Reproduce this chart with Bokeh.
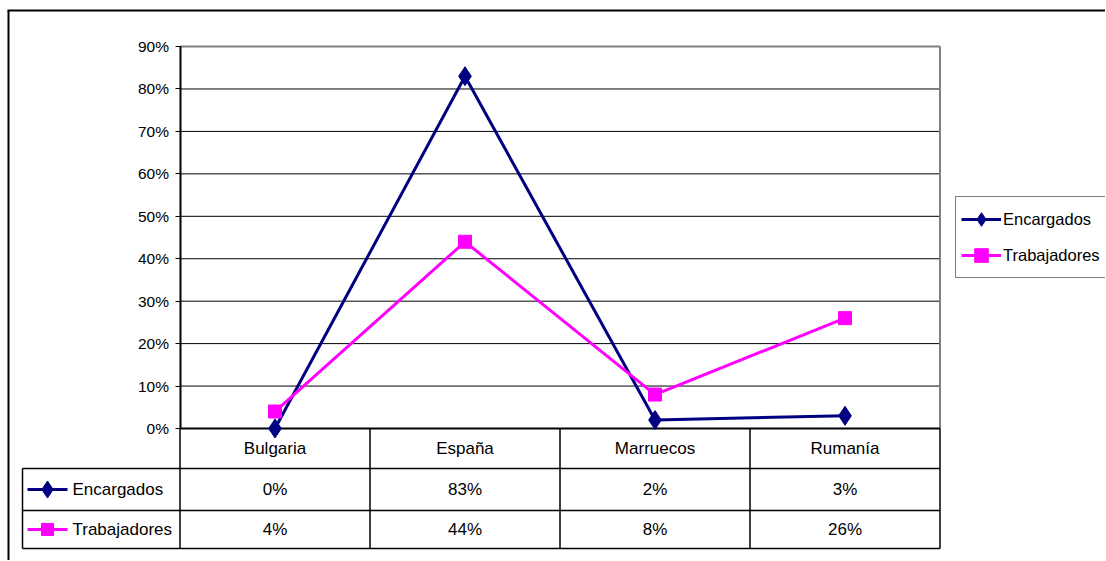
from bokeh.plotting import figure
from bokeh.models import Range1d, FixedTicker, NumeralTickFormatter, Legend, LegendItem
from bokeh.core.properties import value
from bokeh.embed import file_html
from bokeh.resources import INLINE

# ---------------- data ----------------
categories = ["Bulgaria", "España", "Marruecos", "Rumanía"]
series_names = ["Encargados", "Trabajadores"]
encargados = [0.00, 0.83, 0.02, 0.03]
trabajadores = [0.04, 0.44, 0.08, 0.26]
y_ticks = [0.0, 0.1, 0.2, 0.3, 0.4, 0.5, 0.6, 0.7, 0.8, 0.9]

# ---------------- style ----------------
FONT = "Liberation Sans"
NAVY = "#000080"
MAGENTA = "#FF00FF"
GREY = "#808080"

W, H = 1105, 560
OFF = 0
PX_X0 = 179.5   # page x of plot-area left edge
PX_UX = 190.0   # px per category
PX_Y0 = 428.0   # page y of 0%
PX_UY = 424.4   # px per 100%


def dx(px):
    return -0.5 + (px - PX_X0) / PX_UX


def dy(py):
    return (PX_Y0 - py) / PX_UY


p = figure(width=W, height=H,
           x_range=Range1d(dx(OFF), dx(OFF + W)),
           y_range=Range1d(dy(OFF + H), dy(OFF)),
           toolbar_location=None, output_backend="svg",
           min_border=0, x_axis_location=None, y_axis_location="left")
p.outline_line_color = None
p.grid.visible = False
p.background_fill_color = "white"
p.border_fill_color = "white"

n = len(categories)
xs = list(range(n))
x_left, x_right = -0.5, n - 0.5

# y axis placed on the plot-area left edge
ax = p.yaxis[0]
ax.fixed_location = x_left
ax.bounds = (y_ticks[0], y_ticks[-1])
ax.ticker = FixedTicker(ticks=y_ticks)
ax.formatter = NumeralTickFormatter(format="0%")
ax.major_tick_in = 0
ax.major_tick_out = 5
ax.minor_tick_line_color = None
ax.major_label_standoff = 6
ax.major_label_text_font = FONT
ax.major_label_text_font_size = "15.5px"
ax.major_label_text_color = "black"
ax.axis_line_color = "black"
ax.axis_line_width = 2
ax.major_tick_line_color = "black"

# grid lines
inner = y_ticks[1:-1]
p.segment(x0=x_left, x1=x_right, y0=inner, y1=inner, line_color="black", line_width=1)
p.segment(x0=x_left, x1=x_right, y0=y_ticks[-1], y1=y_ticks[-1], line_color=GREY, line_width=2)
p.segment(x0=x_right, x1=x_right, y0=y_ticks[0], y1=y_ticks[-1], line_color=GREY, line_width=2)

# data table geometry
ROW_PX = [428, 468, 510, 548]
TABLE_LEFT = dx(22)
row_y = [dy(v) for v in ROW_PX]
row_mid = [dy((ROW_PX[i] + ROW_PX[i + 1]) / 2) for i in range(3)]

bounds_x = [i - 0.5 for i in range(n + 1)]
p.segment(x0=bounds_x, x1=bounds_x, y0=row_y[0], y1=row_y[-1], line_color="black", line_width=1.5)
p.segment(x0=TABLE_LEFT, x1=TABLE_LEFT, y0=row_y[1], y1=row_y[-1], line_color="black", line_width=1.5)
p.segment(x0=TABLE_LEFT, x1=x_right, y0=row_y[1:], y1=row_y[1:], line_color="black", line_width=1.5)
p.segment(x0=x_left, x1=x_right, y0=0, y1=0, line_color="black", line_width=2)

# outer chart frame (left and top)
p.segment(x0=dx(8), x1=dx(8), y0=dy(OFF + H), y1=dy(10), line_color="black", line_width=2)
p.segment(x0=dx(7), x1=dx(OFF + W), y0=dy(10), y1=dy(10), line_color="black", line_width=2)

# series
l1 = p.line(xs, encargados, line_color=NAVY, line_width=3)
m1 = p.scatter(xs, encargados, marker="diamond", size=19,
               fill_color=NAVY, line_color=NAVY)
l2 = p.line(xs, trabajadores, line_color=MAGENTA, line_width=3)
m2 = p.scatter(xs, trabajadores, marker="square", size=13,
               fill_color=MAGENTA, line_color=MAGENTA)

# table texts
TXT = dict(text_font=value(FONT), text_font_size="17px", text_color="black",
           text_align="center", text_baseline="middle")
p.text(x=xs, y=[row_mid[0]] * n, text=categories, **TXT)
p.text(x=xs, y=[row_mid[1]] * n, text=[f"{round(v * 100)}%" for v in encargados], **TXT)
p.text(x=xs, y=[row_mid[2]] * n, text=[f"{round(v * 100)}%" for v in trabajadores], **TXT)

# table legend keys
key_x0, key_x1, key_m = dx(27), dx(67), dx(47)
for ri, (name, col, mk, sz) in enumerate([
        (series_names[0], NAVY, "diamond", 17),
        (series_names[1], MAGENTA, "square", 12)]):
    yy = row_mid[ri + 1]
    p.segment(x0=key_x0, x1=key_x1, y0=yy, y1=yy, line_color=col, line_width=3)
    p.scatter([key_m], [yy], marker=mk, size=sz, fill_color=col, line_color=col)
    p.text(x=[dx(72)], y=[yy], text=[name], text_font=value(FONT), text_font_size="17px",
           text_color="black", text_align="left", text_baseline="middle")

legend = Legend(items=[LegendItem(label=series_names[0], renderers=[l1, m1]),
                       LegendItem(label=series_names[1], renderers=[l2, m2])],
                location=(955 - OFF, H - (278 - OFF)))
legend.label_text_font = FONT
legend.label_text_font_size = "16.5px"
legend.label_text_color = "black"
legend.glyph_width = 40
legend.glyph_height = 34
legend.label_height = 34
legend.label_standoff = 2
legend.padding = 5
legend.spacing = 2
legend.margin = 0
legend.border_line_color = "black"
legend.border_line_width = 1
legend.background_fill_alpha = 1
p.add_layout(legend)

open("out.html", "w").write(file_html(p, INLINE))
